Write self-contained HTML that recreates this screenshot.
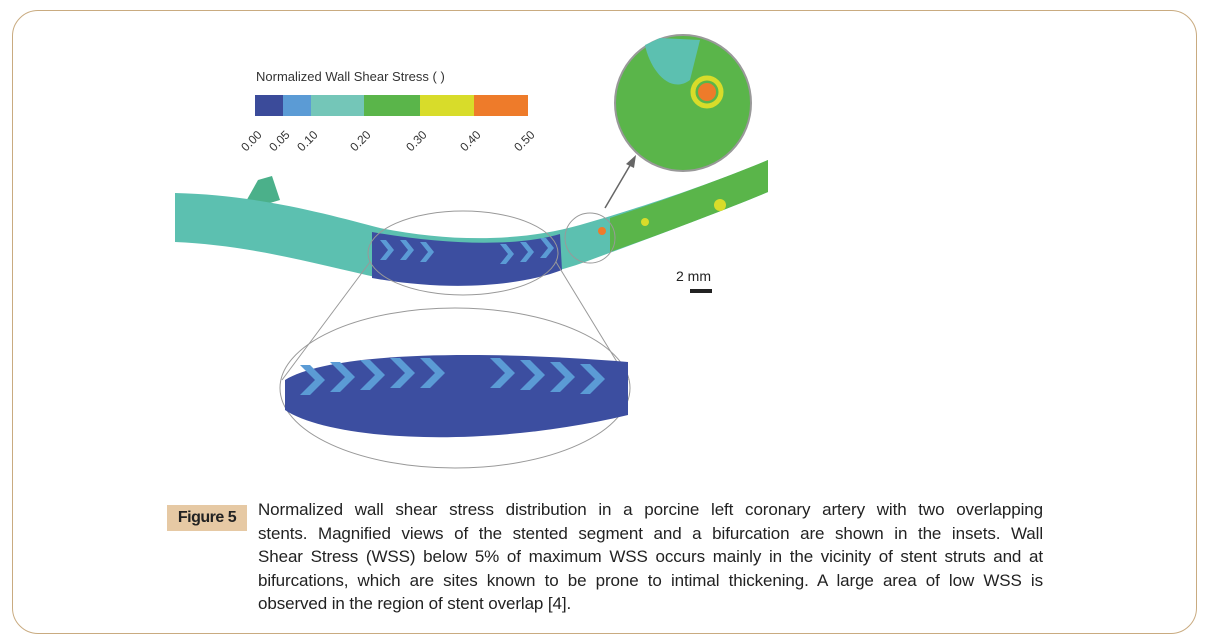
<!DOCTYPE html>
<html><head><style>
body{margin:0;width:1209px;height:644px;background:#fff;overflow:hidden;position:relative;font-family:"Liberation Sans",sans-serif}
.frame{position:absolute;left:12px;top:10px;width:1183px;height:622px;border:1.5px solid #c9ab80;border-radius:26px}
.cap{position:absolute;left:258px;top:498px;width:785px;font-size:17px;letter-spacing:-0.1px;line-height:23.6px;color:#222}
.cap div{text-align:justify;text-align-last:justify;white-space:nowrap;overflow:visible}
.cap div.l{text-align-last:left}
.fig{position:absolute;left:167px;top:505px;width:80px;height:26px;background:#e6c9a4;font-weight:bold;font-size:16px;letter-spacing:-0.5px;line-height:26px;text-align:center;color:#222}
</style></head><body>
<div class="frame"></div>
<svg width="1209" height="644" style="position:absolute;left:0;top:0">
<text x="256" y="81" font-size="13" fill="#333">Normalized Wall Shear Stress ( )</text>
<rect x="255" y="95" width="28" height="21" fill="#3b4b9a"/>
<rect x="283" y="95" width="28" height="21" fill="#5b9bd5"/>
<rect x="311" y="95" width="53" height="21" fill="#74c6b8"/>
<rect x="364" y="95" width="56" height="21" fill="#5ab54a"/>
<rect x="420" y="95" width="54" height="21" fill="#d8dc2a"/>
<rect x="474" y="95" width="54" height="21" fill="#ee7b2a"/>
<g font-size="12" fill="#333">
<text transform="translate(246,152) rotate(-45)">0.00</text>
<text transform="translate(274,152) rotate(-45)">0.05</text>
<text transform="translate(302,152) rotate(-45)">0.10</text>
<text transform="translate(355,152) rotate(-45)">0.20</text>
<text transform="translate(411,152) rotate(-45)">0.30</text>
<text transform="translate(465,152) rotate(-45)">0.40</text>
<text transform="translate(519,152) rotate(-45)">0.50</text>
</g>
<path d="M240,212 L258,180 L272,176 L280,200 Z" fill="#4bb08a"/>
<path d="M175,193 C260,195 330,215 380,228 C450,242 520,242 580,225 C650,205 720,180 768,160 L768,192 C720,212 650,238 585,262 C520,285 450,290 380,278 C320,265 250,245 175,242 Z" fill="#5cc0b0"/>
<path d="M372,232 C450,246 520,246 560,234 L562,270 C520,286 450,292 372,278 Z" fill="#3c4ea0"/>
<g fill="#5b9bd5"><path d="M380,240 l8,10 -8,10 6,0 8,-10 -8,-10z"/><path d="M400,240 l8,10 -8,10 6,0 8,-10 -8,-10z"/><path d="M420,242 l8,10 -8,10 6,0 8,-10 -8,-10z"/><path d="M500,244 l8,10 -8,10 6,0 8,-10 -8,-10z"/><path d="M520,242 l8,10 -8,10 6,0 8,-10 -8,-10z"/><path d="M540,238 l8,10 -8,10 6,0 8,-10 -8,-10z"/></g>
<path d="M610,218 C650,205 720,180 768,160 L768,192 C720,212 650,238 610,252 Z" fill="#5ab54a"/>
<circle cx="602" cy="231" r="4" fill="#ee7b2a"/><circle cx="720" cy="205" r="6" fill="#d8dc2a"/><circle cx="645" cy="222" r="4" fill="#d8dc2a"/>
<ellipse cx="463" cy="253" rx="95" ry="42" fill="none" stroke="#999" stroke-width="1"/>
<circle cx="590" cy="238" r="25" fill="none" stroke="#999"/>
<line x1="370" y1="262" x2="282" y2="380" stroke="#999"/>
<line x1="556" y1="262" x2="628" y2="380" stroke="#999"/>
<ellipse cx="455" cy="388" rx="175" ry="80" fill="none" stroke="#999"/>
<path d="M285,380 C330,352 480,350 628,362 L628,415 C480,450 330,440 285,410 Z" fill="#3c4ea0"/>
<g fill="#5b9bd5">
<path d="M300,365 l15,15 -15,15 10,0 15,-15 -15,-15z"/><path d="M330,362 l15,15 -15,15 10,0 15,-15 -15,-15z"/><path d="M360,360 l15,15 -15,15 10,0 15,-15 -15,-15z"/><path d="M390,358 l15,15 -15,15 10,0 15,-15 -15,-15z"/><path d="M420,358 l15,15 -15,15 10,0 15,-15 -15,-15z"/><path d="M490,358 l15,15 -15,15 10,0 15,-15 -15,-15z"/><path d="M520,360 l15,15 -15,15 10,0 15,-15 -15,-15z"/><path d="M550,362 l15,15 -15,15 10,0 15,-15 -15,-15z"/><path d="M580,364 l15,15 -15,15 10,0 15,-15 -15,-15z"/></g>
<circle cx="683" cy="103" r="68" fill="#5ab54a" stroke="#999" stroke-width="2"/>
<path d="M645,45 C650,70 670,95 690,80 L700,40 L660,38 Z" fill="#5cc0b0"/>
<circle cx="707" cy="92" r="9" fill="#ee7b2a"/><circle cx="707" cy="92" r="14" fill="none" stroke="#d8dc2a" stroke-width="5"/>
<line x1="605" y1="208" x2="632" y2="162" stroke="#666" stroke-width="1.5"/>
<path d="M636,155 L626,164 L634,168 Z" fill="#666"/>
<text x="676" y="281" font-size="14" fill="#222">2 mm</text>
<rect x="690" y="289" width="22" height="4" fill="#222"/>
</svg>
<div class="fig">Figure 5</div>
<div class="cap">
<div>Normalized wall shear stress distribution in a porcine left coronary artery with two overlapping</div>
<div>stents. Magnified views of the stented segment and a bifurcation are shown in the insets. Wall</div>
<div>Shear Stress (WSS) below 5% of maximum WSS occurs mainly in the vicinity of stent struts and at</div>
<div>bifurcations, which are sites known to be prone to intimal thickening. A large area of low WSS is</div>
<div class="l">observed in the region of stent overlap [4].</div>
</div>
</body></html>
